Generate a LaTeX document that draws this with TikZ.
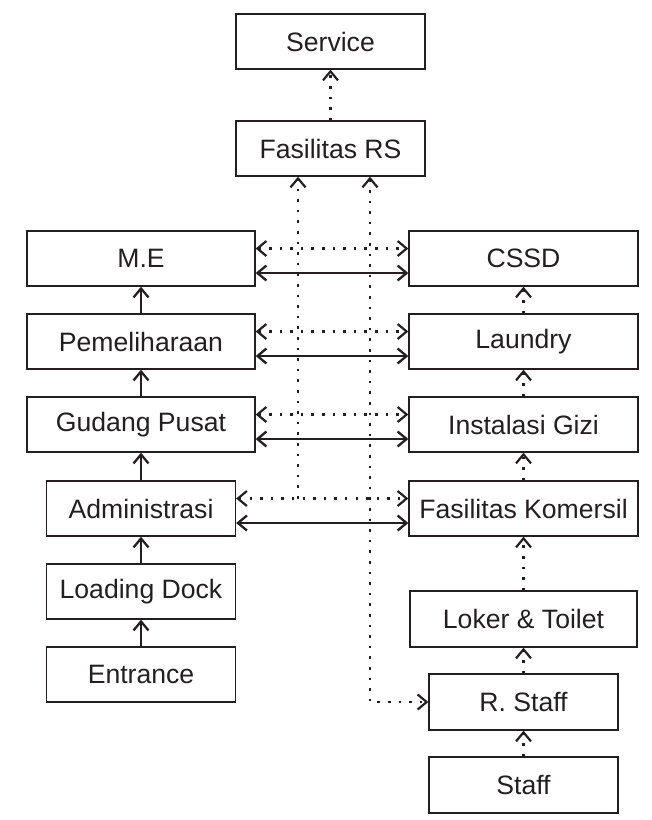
\documentclass[tikz,border=0pt]{standalone}
\usepackage{fontspec}
\setmainfont{Liberation Sans}
\usetikzlibrary{arrows.meta}
\definecolor{ink}{HTML}{231F20}
\begin{document}
\begin{tikzpicture}[x=1pt,y=-1pt,
  box/.style={draw=ink, line width=1.3pt, text=ink, inner sep=0pt,
    font=\fontsize{26.6}{30}\selectfont},
  wide/.style={box, minimum width=228pt, minimum height=55pt},
  mid/.style={box, minimum width=189pt, minimum height=55pt},
  solidarrow/.style={draw=ink, line width=2.3pt, -{Straight Barb[length=9pt, width=15pt]}},
  solidboth/.style={draw=ink, line width=2.3pt, {Straight Barb[length=9pt, width=15pt]}-{Straight Barb[length=9pt, width=15pt]}},
  dotline/.style={draw=ink, line width=2.5pt, dash pattern=on 2.5pt off 8.1pt},
  dotarrow/.style={dotline, -{Straight Barb[length=9pt, width=15pt, line width=2.2pt]}},
  dotboth/.style={dotline, {Straight Barb[length=9pt, width=15pt, line width=2.2pt]}-{Straight Barb[length=9pt, width=15pt, line width=2.2pt]}},
]
\useasboundingbox (0,0) rectangle (652,820);

% top of the chart
\node[mid] (svc) at (330.5,41.5) {Service};
\node[mid] (frs) at (330.5,148.5) {Fasilitas RS};

% left column
\node[wide] (me)  at (141,258.5) {M.E};
\node[wide] (pem) at (141,341.5) {Pemeliharaan};
\node[wide] (gud) at (141,424.5) {Gudang Pusat};
\node[mid]  (adm) at (141,508.5) {Administrasi};
\node[mid]  (lod) at (141,591.5) {Loading Dock};
\node[mid]  (ent) at (141,674.5) {Entrance};

% right column
\node[wide, minimum width=229pt] (cssd) at (523.5,258.5) {CSSD};
\node[wide, minimum width=229pt] (lau)  at (523.5,341.5) {Laundry};
\node[wide, minimum width=229pt] (gizi) at (523.5,424.5) {Instalasi Gizi};
\node[wide, minimum width=229pt] (kom)  at (523.5,508.5) {Fasilitas Komersil};
\node[wide, minimum width=227pt, minimum height=56pt] (lok) at (523.5,619) {Loker \& Toilet};
\node[mid, minimum height=56pt] (rst) at (523.5,702) {R. Staff};
\node[mid, minimum height=56pt] (stf) at (523.5,785) {Staff};

% service flow
\draw[dotarrow] (frs) -- (svc);

% goods flow on the left
\draw[solidarrow] (ent) -- (lod);
\draw[solidarrow] (lod) -- (adm);
\draw[solidarrow] (adm) -- (gud);
\draw[solidarrow] (gud) -- (pem);
\draw[solidarrow] (pem) -- (me);

% staff flow on the right
\draw[dotarrow] (stf) -- (rst);
\draw[dotarrow] (rst) -- (lok);
\draw[dotarrow] (lok) -- (kom);
\draw[dotarrow] (kom) -- (gizi);
\draw[dotarrow] (gizi) -- (lau);
\draw[dotarrow] (lau) -- (cssd);

% links between the two columns
\foreach \l/\r in {me/cssd, pem/lau, gud/gizi, adm/kom}{
  \draw[dotboth] ([yshift=10pt]\l.east) -- ([yshift=10pt]\r.west);
  \draw[solidboth] ([yshift=-14.5pt]\l.east) -- ([yshift=-14.5pt]\r.west);
}

% vertical links up to Fasilitas RS
\coordinate (ja) at (298,498.5);
\coordinate (jb) at (370,0);
\draw[dotarrow] (ja) -- (ja |- frs.south);
\draw[dotboth] (jb |- frs.south) |- (rst.west);
\end{tikzpicture}
\end{document}
